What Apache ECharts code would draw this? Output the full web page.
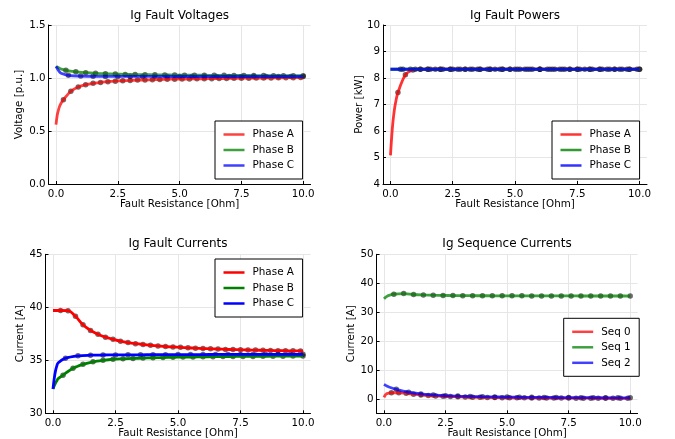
<!DOCTYPE html>
<html><head><meta charset="utf-8">
<script src="https://cdn.jsdelivr.net/npm/echarts@6/dist/echarts.min.js"></script>
<style>html,body{margin:0;padding:0;background:#fff}#c{width:675px;height:439px}</style>
</head><body><div id="c"></div>
<script>
// ---- shared x values ----
const xStart = [0, 0.05, 0.1, 0.15, 0.2];
const xMarkA = [0.3, 0.6, 0.9, 1.2, 1.5, 1.8, 2.1, 2.4, 2.7, 3.0, 3.3, 3.6, 3.9, 4.2, 4.5, 4.8, 5.1, 5.4, 5.7, 6.0, 6.3, 6.6, 6.9, 7.2, 7.5, 7.8, 8.1, 8.4, 8.7, 9.0, 9.3, 9.6, 9.9];
const xMarkB = [0.4, 0.8, 1.2, 1.6, 2.0, 2.4, 2.8, 3.2, 3.6, 4.0, 4.4, 4.8, 5.2, 5.6, 6.0, 6.4, 6.8, 7.2, 7.6, 8.0, 8.4, 8.8, 9.2, 9.6, 10.0];
const xMarkC = [0.5, 1.0, 1.5, 2.0, 2.5, 3.0, 3.5, 4.0, 4.5, 5.0, 5.5, 6.0, 6.5, 7.0, 7.5, 8.0, 8.5, 9.0, 9.5, 10.0];
const xEnd = [10];
const xTicks = [0, 2.5, 5, 7.5, 10];

// ---- Ig Fault Voltages ----
const vaStart = [0.56, 0.65, 0.70, 0.735, 0.76];
const vaMarks = [0.795, 0.875, 0.915, 0.937, 0.95, 0.958, 0.965, 0.97, 0.974, 0.977, 0.98, 0.982, 0.984, 0.986, 0.988, 0.989, 0.99, 0.991, 0.992, 0.993, 0.994, 0.995, 0.996, 0.997, 0.998, 0.998, 0.999, 1.0, 1.001, 1.002, 1.003, 1.003, 1.004];
const vaEnd = [1.004];
const vbStart = [1.11, 1.103, 1.096, 1.09, 1.085];
const vbMarks = [1.072, 1.058, 1.05, 1.044, 1.04, 1.037, 1.034, 1.032, 1.031, 1.03, 1.029, 1.028, 1.027, 1.026, 1.026, 1.025, 1.025, 1.024, 1.024, 1.023, 1.023, 1.022, 1.022, 1.022, 1.021];
const vcStart = [1.11, 1.09, 1.07, 1.055, 1.045];
const vcMarks = [1.025, 1.018, 1.016, 1.015, 1.015, 1.015, 1.015, 1.015, 1.014, 1.014, 1.014, 1.014, 1.014, 1.014, 1.014, 1.014, 1.014, 1.014, 1.014, 1.014];

// ---- Ig Fault Powers ----
const paStart = [5.08, 5.8, 6.35, 6.75, 7.05];
const paMarks = [7.45, 8.12, 8.3, 8.33, 8.33, 8.33, 8.33, 8.33, 8.33, 8.33, 8.33, 8.33, 8.33, 8.33, 8.33, 8.33, 8.33, 8.33, 8.33, 8.33, 8.33, 8.33, 8.33, 8.33, 8.33, 8.33, 8.33, 8.33, 8.33, 8.33, 8.33, 8.33, 8.33];
const paEnd = [8.33];
const pbStart = [8.33, 8.33, 8.33, 8.33, 8.33];
const pbMarks = [8.33, 8.33, 8.33, 8.33, 8.33, 8.33, 8.33, 8.33, 8.33, 8.33, 8.33, 8.33, 8.33, 8.33, 8.33, 8.33, 8.33, 8.33, 8.33, 8.33, 8.33, 8.33, 8.33, 8.33, 8.33];
const pcStart = [8.33, 8.33, 8.33, 8.33, 8.33];
const pcMarks = [8.33, 8.33, 8.33, 8.33, 8.33, 8.33, 8.33, 8.33, 8.33, 8.33, 8.33, 8.33, 8.33, 8.33, 8.33, 8.33, 8.33, 8.33, 8.33, 8.33];

// ---- Ig Fault Currents ----
const iaStart = [39.7, 39.7, 39.7, 39.7, 39.7];
const iaMarks = [39.7, 39.68, 39.15, 38.35, 37.82, 37.45, 37.18, 36.98, 36.8, 36.67, 36.57, 36.49, 36.42, 36.36, 36.3, 36.26, 36.22, 36.18, 36.14, 36.11, 36.08, 36.06, 36.03, 36.01, 35.99, 35.97, 35.96, 35.94, 35.93, 35.91, 35.9, 35.89, 35.88];
const iaEnd = [35.87];
const ibStart = [32.3, 32.6, 32.85, 33.05, 33.25];
const ibMarks = [33.6, 34.25, 34.62, 34.86, 35.0, 35.1, 35.14, 35.18, 35.21, 35.24, 35.26, 35.28, 35.3, 35.31, 35.33, 35.34, 35.35, 35.36, 35.37, 35.37, 35.38, 35.39, 35.39, 35.4, 35.4];
const icStart = [32.3, 33.3, 34.0, 34.45, 34.75];
const icMarks = [35.2, 35.42, 35.48, 35.5, 35.51, 35.52, 35.52, 35.53, 35.53, 35.54, 35.54, 35.54, 35.55, 35.55, 35.55, 35.55, 35.56, 35.56, 35.56, 35.56];

// ---- Ig Sequence Currents ----
const s0Start = [0.5, 1.3, 1.7, 1.9, 2.0];
const s0Marks = [2.1, 2.1, 1.9, 1.6, 1.35, 1.15, 1.0, 0.88, 0.78, 0.7, 0.63, 0.57, 0.52, 0.48, 0.44, 0.41, 0.38, 0.36, 0.34, 0.32, 0.3, 0.29, 0.27, 0.26, 0.25, 0.24, 0.23, 0.22, 0.21, 0.2, 0.2, 0.19, 0.18];
const s0End = [0.18];
const s1Start = [34.6, 35.0, 35.35, 35.6, 35.8];
const s1Marks = [36.2, 36.4, 36.1, 35.95, 35.85, 35.78, 35.73, 35.7, 35.68, 35.66, 35.65, 35.64, 35.63, 35.62, 35.61, 35.6, 35.6, 35.59, 35.59, 35.58, 35.58, 35.57, 35.57, 35.57, 35.56];
const s2Start = [5.0, 4.75, 4.5, 4.3, 4.1];
const s2Marks = [3.3, 2.3, 1.7, 1.35, 1.1, 0.95, 0.83, 0.74, 0.67, 0.61, 0.56, 0.52, 0.49, 0.46, 0.43, 0.41, 0.39, 0.37, 0.35, 0.34];

const phaseNames = ['Phase A', 'Phase B', 'Phase C'];
const seqNames = ['Seq 0', 'Seq 1', 'Seq 2'];

const FONT = 'DejaVu Sans';
function pts(xs, ys) { return xs.map((x, i) => [x, ys[i]]); }

const panels = [
  { title: 'Ig Fault Voltages', yName: 'Voltage [p.u.]', yMin: 0, yMax: 1.5, yTicks: [0, 0.5, 1, 1.5], yFmt: v => v.toFixed(1), yGap: 24,
    grid: { left: 48.6, top: 25, width: 262, height: 159 }, titleX: 179.6, titleY: 9.5,
    legend: { left: 215, top: 121 }, names: phaseNames, alpha: 0.75,
    a: [vaStart, vaMarks, vaEnd], b: [vbStart, vbMarks], c: [vcStart, vcMarks] },
  { title: 'Ig Fault Powers', yName: 'Power [kW]', yMin: 4, yMax: 10, yTicks: [4, 5, 6, 7, 8, 9, 10], yFmt: v => String(v), yGap: 19,
    grid: { left: 383, top: 25, width: 264, height: 159 }, titleX: 515, titleY: 9.5,
    legend: { left: 552, top: 121 }, names: phaseNames, alpha: 0.8,
    a: [paStart, paMarks, paEnd], b: [pbStart, pbMarks], c: [pcStart, pcMarks] },
  { title: 'Ig Fault Currents', yName: 'Current [A]', yMin: 30, yMax: 45, yTicks: [30, 35, 40, 45], yFmt: v => String(v), yGap: 20,
    grid: { left: 45.5, top: 254.3, width: 265, height: 159 }, titleX: 178, titleY: 237.5,
    legend: { left: 215, top: 259 }, names: phaseNames, alpha: 1,
    a: [iaStart, iaMarks, iaEnd], b: [ibStart, ibMarks], c: [icStart, icMarks] },
  { title: 'Ig Sequence Currents', yName: 'Current [A]', yMin: -5, yMax: 50, yTicks: [0, 10, 20, 30, 40, 50], yFmt: v => String(v), yGap: 20,
    grid: { left: 376.6, top: 254.3, width: 261, height: 159 }, titleX: 507, titleY: 237.5,
    legend: { left: 563.7, top: 318.3 }, names: seqNames, alpha: 0.75,
    a: [s0Start, s0Marks, s0End], b: [s1Start, s1Marks], c: [s2Start, s2Marks] }
];

const baseColors = [[255, 0, 0], [0, 128, 0], [0, 0, 255]];
function rgba(c, a) { return 'rgba(' + c[0] + ',' + c[1] + ',' + c[2] + ',' + a + ')'; }

const option = {
  backgroundColor: '#fff',
  animation: false,
  title: [], grid: [], xAxis: [], yAxis: [], legend: [], series: []
};

panels.forEach((p, i) => {
  option.title.push({
    text: p.title, left: p.titleX, top: p.titleY, textAlign: 'center', padding: 0,
    textStyle: { fontFamily: FONT, fontSize: 12, fontWeight: 'normal', color: '#000' }
  });
  option.grid.push(Object.assign({ containLabel: false, outerBoundsMode: 'none' }, p.grid));
  option.xAxis.push({
    gridIndex: i, type: 'value', min: -0.3, max: 10.3,
    name: 'Fault Resistance [Ohm]', nameLocation: 'middle', nameGap: 15, nameMoveOverlap: false,
    nameTextStyle: { fontFamily: FONT, fontSize: 10.3, color: '#000' },
    axisLine: { show: true, onZero: false, lineStyle: { color: '#000', width: 1 } },
    axisTick: { show: true, inside: true, length: 3, customValues: xTicks, lineStyle: { color: '#000' } },
    axisLabel: { customValues: xTicks, formatter: v => v.toFixed(1), fontFamily: FONT, fontSize: 10.3, color: '#000', margin: 5 },
    splitLine: { show: true, lineStyle: { color: '#e6e6e6', width: 1 } }
  });
  option.yAxis.push({
    gridIndex: i, type: 'value', min: p.yMin, max: p.yMax,
    name: p.yName, nameLocation: 'middle', nameGap: p.yGap, nameMoveOverlap: false,
    nameTextStyle: { fontFamily: FONT, fontSize: 10.3, color: '#000' },
    axisLine: { show: true, onZero: false, lineStyle: { color: '#000', width: 1 } },
    axisTick: { show: true, inside: true, length: 3, customValues: p.yTicks, lineStyle: { color: '#000' } },
    axisLabel: { customValues: p.yTicks, formatter: p.yFmt, fontFamily: FONT, fontSize: 10.3, color: '#000', margin: 3 },
    splitLine: { show: true, lineStyle: { color: '#e6e6e6', width: 1 } }
  });
  const cols = baseColors.map(c => rgba(c, p.alpha));
  option.legend.push({
    left: p.legend.left, top: p.legend.top, orient: 'vertical',
    padding: [6.5, 8.5, 6.5, 8.5], itemGap: 1.5, itemWidth: 21, itemHeight: 2.5, icon: 'rect',
    borderColor: '#000', borderWidth: 1, borderRadius: 0, backgroundColor: '#fff',
    selectedMode: false,
    textStyle: { fontFamily: FONT, fontSize: 10.4, color: '#000', lineHeight: 14, padding: [0, 0, 0, 3] },
    data: p.names.map((n, k) => ({ name: n, itemStyle: { color: cols[k] } }))
  });
  const lines = [
    { name: p.names[0], data: pts(xStart.concat(xMarkA, xEnd), p.a[0].concat(p.a[1], p.a[2])), marks: pts(xMarkA, p.a[1]) },
    { name: p.names[1], data: pts(xStart.concat(xMarkB), p.b[0].concat(p.b[1])), marks: pts(xMarkB, p.b[1]) },
    { name: p.names[2], data: pts(xStart.concat(xMarkC), p.c[0].concat(p.c[1])), marks: pts(xMarkC, p.c[1]) }
  ];
  lines.forEach((l, k) => {
    option.series.push({
      type: 'line', name: l.name, xAxisIndex: i, yAxisIndex: i, data: l.data,
      showSymbol: false, symbol: 'none', smooth: 0.3,
      color: cols[k], lineStyle: { color: cols[k], width: 2.8 }
    });
    option.series.push({
      type: 'scatter', xAxisIndex: i, yAxisIndex: i, data: l.marks,
      symbol: 'circle', symbolSize: 5.5,
      itemStyle: { color: 'rgba(0,0,0,0.72)' }
    });
  });
});

const chart = echarts.init(document.getElementById('c'), null, { renderer: 'canvas' });
chart.setOption(option);
</script>
</body></html>
